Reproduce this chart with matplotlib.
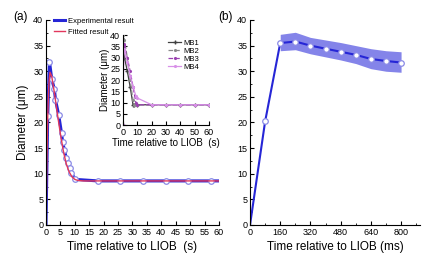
import matplotlib
matplotlib.use("Agg")
import matplotlib.pyplot as plt
from matplotlib.ticker import MultipleLocator

plt.rcParams['font.family'] = ['Liberation Sans', 'DejaVu Sans']

# Panel (a) experimental
exp_t = [0, 0.6, 1.2, 2.0, 2.9, 3.3, 4.4, 5.4, 5.8, 6.4, 7.0, 7.6, 8.2, 8.7, 10.2, 18.0, 25.8, 33.6, 41.5, 49.4, 57.3, 60]
exp_d = [0, 21.3, 31.9, 28.5, 26.5, 24.4, 21.5, 17.9, 16.1, 14.6, 13.1, 12.0, 11.1, 10.2, 8.9, 8.6, 8.6, 8.6, 8.6, 8.6, 8.6, 8.6]
# Fitted
fit_t = [0, 0.3, 0.6, 1.0, 1.4, 2.0, 3.0, 4.0, 5.0, 6.0, 7.0, 8.0, 9.0, 10.0, 11.0, 13.0, 20.0, 60.0]
fit_d = [0, 12.0, 21.0, 27.5, 29.8, 29.0, 25.5, 21.5, 17.8, 14.5, 12.0, 10.4, 9.4, 8.9, 8.7, 8.6, 8.6, 8.6]

# Inset MB curves
mb1_t = [0, 0.3, 1, 3, 5, 7, 8, 10, 20, 30, 40, 50, 60]
mb1_d = [0, 33, 30, 24, 17, 9, 9, 9, 9, 9, 9, 9, 9]
mb2_t = [0, 0.3, 1, 3, 5, 7, 8, 10, 20, 30, 40, 50, 60]
mb2_d = [0, 40, 38, 30, 20, 11, 9, 9, 9, 9, 9, 9, 9]
mb3_t = [0, 0.5, 1, 3, 5, 7, 9, 10, 20, 30, 40, 50, 60]
mb3_d = [0, 36, 35, 30, 24, 17, 10, 9, 9, 9, 9, 9, 9]
mb4_t = [0, 0.5, 1, 3, 5, 7, 9, 10, 20, 30, 40, 50, 60]
mb4_d = [0, 34, 33, 28, 22, 17, 13, 12, 9, 9, 9, 9, 9]

# Panel (b)
b_t = [0, 80, 160, 240, 320, 400, 480, 560, 640, 720, 800]
b_d = [0, 20.2, 35.5, 35.8, 35.0, 34.4, 33.8, 33.2, 32.4, 32.0, 31.7]
band_t = [160, 240, 320, 400, 480, 560, 640, 720, 800]
band_hi = [37.2, 37.6, 36.6, 36.1, 35.6, 35.0, 34.4, 34.0, 33.8]
band_lo = [34.0, 34.2, 33.4, 32.8, 32.2, 31.5, 30.5, 30.0, 29.8]

fig = plt.figure(figsize=(4.27, 2.63), dpi=100)

def style(ax, fs=6.5):
    ax.spines['top'].set_visible(False)
    ax.spines['right'].set_visible(False)
    ax.tick_params(direction='in', which='both', labelsize=fs, pad=2)
    ax.tick_params(which='major', length=3, width=0.8)
    ax.tick_params(which='minor', length=1.5, width=0.6)

blue = '#2626d6'
red = '#e2375c'

# Panel a
axa = fig.add_axes([0.1077, 0.1445, 0.405, 0.7795])
axa.plot(exp_t, exp_d, color=blue, lw=2.2, label='Experimental result',
         marker='o', ms=4, mfc='white', mec='#8a8ae6', mew=0.9, markevery=list(range(1, len(exp_t) - 1)))
axa.plot(fit_t, fit_d, color=red, lw=1.0, label='Fitted result')
axa.set_xlim(0, 60)
axa.set_ylim(0, 40)
axa.xaxis.set_major_locator(MultipleLocator(5))
axa.yaxis.set_major_locator(MultipleLocator(5))
axa.yaxis.set_minor_locator(MultipleLocator(2.5))
style(axa)
axa.set_xlabel('Time relative to LIOB  (s)', fontsize=8.5, labelpad=3)
axa.set_ylabel('Diameter (μm)', fontsize=8.5, labelpad=3)
leg = axa.legend(loc='upper left', bbox_to_anchor=(0.02, 1.035), fontsize=5.5, frameon=False,
                 handlelength=1.5, handletextpad=0.35, labelspacing=0.5, markerscale=0,
                 borderaxespad=0.2)
fig.text(0.03, 0.925, '(a)', fontsize=8.5)

# Inset
axi = fig.add_axes([0.288, 0.5247, 0.2014, 0.342])
axi.plot(mb1_t, mb1_d, color='#404040', lw=0.9, marker='+', ms=3, label='MB1')
axi.plot(mb2_t, mb2_d, color='#8a8a8a', lw=0.9, ls='--', marker='.', ms=2.5, label='MB2')
axi.plot(mb3_t, mb3_d, color='#9a40b0', lw=0.9, ls='--', marker='.', ms=2.5, label='MB3')
axi.plot(mb4_t, mb4_d, color='#d890e8', lw=0.9, marker='.', ms=2.5, label='MB4')
axi.set_xlim(0, 60)
axi.set_ylim(0, 40)
axi.xaxis.set_major_locator(MultipleLocator(10))
axi.yaxis.set_major_locator(MultipleLocator(5))
style(axi, fs=6.5)
axi.set_xlabel('Time relative to LIOB  (s)', fontsize=7, labelpad=1)
axi.set_ylabel('Diameter (μm)', fontsize=7, labelpad=0)
axi.legend(loc='upper right', bbox_to_anchor=(0.97, 1.03), fontsize=5.5, frameon=False,
           handlelength=1.6, handletextpad=0.4, labelspacing=0.1)
axi.patch.set_alpha(0)

# Panel b
axb = fig.add_axes([0.5855, 0.1445, 0.398, 0.7795])
axb.fill_between(band_t, band_lo, band_hi, color='#6e6ee6', alpha=0.85, lw=0)
axb.plot(b_t, b_d, color=blue, lw=1.5, marker='o', ms=4, mfc='white', mec='#8a8ae6', mew=0.9,
         markevery=list(range(1, len(b_t))))
axb.set_xlim(0, 900)
axb.set_ylim(0, 40)
axb.xaxis.set_major_locator(MultipleLocator(160))
axb.xaxis.set_minor_locator(MultipleLocator(80))
axb.yaxis.set_major_locator(MultipleLocator(5))
axb.yaxis.set_minor_locator(MultipleLocator(2.5))
style(axb)
axb.set_xlabel('Time relative to LIOB (ms)', fontsize=8.5, labelpad=3)
fig.text(0.51, 0.925, '(b)', fontsize=8.5)

fig.savefig('out.png', dpi=100)
